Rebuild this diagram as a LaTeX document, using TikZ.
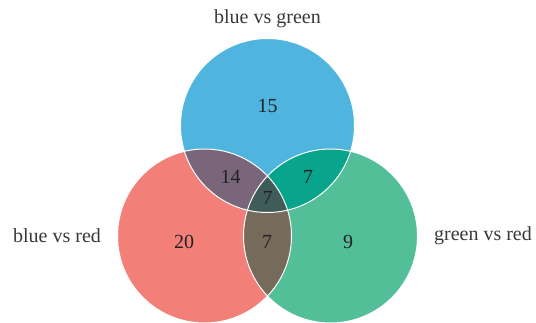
\documentclass[tikz,border=0pt]{standalone}
\usepackage{fontspec}
\setmainfont{Liberation Serif}
\usepackage{tikz}
\usepackage{xcolor}
\usetikzlibrary{positioning}
\definecolor{cBlue}{RGB}{79,181,222}
\definecolor{cRed}{RGB}{242,128,121}
\definecolor{cGreen}{RGB}{82,191,152}
\definecolor{cBlueRed}{RGB}{122,102,122}
\definecolor{cBlueGreen}{RGB}{8,164,140}
\definecolor{cRedGreen}{RGB}{118,106,90}
\definecolor{cAll}{RGB}{64,92,88}
\definecolor{cText}{RGB}{34,34,34}
\tikzset{
	count/.style={inner sep=0pt, text=cText, font=\fontsize{20}{22}\selectfont},
	setlabel/.style={inner sep=0pt, text=cText!90, font=\fontsize{20}{22}\selectfont},
	rim/.style={draw=white, line width=1pt},
}
% set circles (pixel coordinates, y down)
\def\cBlueC{(267.5,125.5) circle[radius=87pt]}
\def\cRedC{(204.5,236) circle[radius=87pt]}
\def\cGreenC{(330.5,236) circle[radius=87pt]}

\begin{document}
\begin{tikzpicture}[x=1pt, y=-1pt]
	\useasboundingbox (0,0) rectangle (536,323);
	% plain sets
	\fill[cBlue] \cBlueC;
	\fill[cRed] \cRedC;
	\fill[cGreen] \cGreenC;
	% pairwise overlaps
	\begin{scope}
		\clip \cBlueC;
		\fill[cBlueRed] \cRedC;
		\fill[cBlueGreen] \cGreenC;
	\end{scope}
	\begin{scope}
		\clip \cRedC;
		\fill[cRedGreen] \cGreenC;
		\clip \cGreenC;
		\fill[cAll] \cBlueC;
	\end{scope}
	% white rims
	\draw[rim] \cBlueC;
	\draw[rim] \cRedC;
	\draw[rim] \cGreenC;
	% counts
	\node[count] (nB)   at (267.5,106) {15};
	\node[count] (nBR)  at (230.5,177) {14};
	\node[count] (nBG)  at (308,177)   {7};
	\node[count] (nBRG) at (267.5,198) {7};
	\node[count] (nR)   at (184,242)   {20};
	\node[count] (nRG)  at (267,242)   {7};
	\node[count] (nG)   at (348,242)   {9};
	% set names
	\node[setlabel] (lBG) at (267.5,19) {blue vs green};
	\node[setlabel] (lBR) at (57,236)   {blue vs red};
	\node[setlabel] (lGR) at (483,236)  {green vs red};
\end{tikzpicture}
\end{document}
